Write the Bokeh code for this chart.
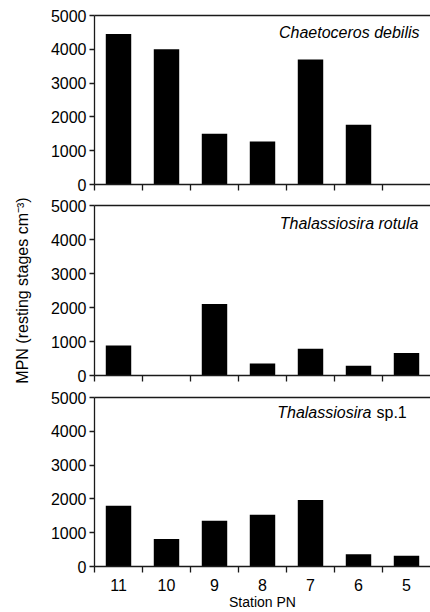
from bokeh.plotting import figure
from bokeh.models import Range1d, FixedTicker, LinearAxis, Label, ColumnDataSource
from bokeh.layouts import column
from bokeh.embed import file_html
from bokeh.resources import INLINE

# ---- data ----
stations = ["11", "10", "9", "8", "7", "6", "5"]
chaetoceros_debilis = [4450, 4000, 1500, 1270, 3700, 1770, 0]
thalassiosira_rotula = [880, 0, 2100, 350, 790, 290, 660]
thalassiosira_sp1 = [1800, 810, 1350, 1530, 1970, 360, 320]
y_ticks = [0, 1000, 2000, 3000, 4000, 5000]
y_max = 5000
y_label = "MPN (resting stages cm\u207b\u00b3)"
x_label = "Station PN"

FONT = "Liberation Sans"
LINE = "#1a1a1a"
x_centers = [i + 0.5 for i in range(len(stations))]
boundaries = list(range(len(stations)))


def make_panel(values, height, top, bottom, last=False, ylabel=None):
    p = figure(width=430, height=height, output_backend="svg", toolbar_location=None,
               x_range=Range1d(0, len(stations)), y_range=Range1d(0, y_max),
               min_border_left=94, min_border_right=0,
               min_border_top=top, min_border_bottom=bottom)
    p.outline_line_color = None
    p.grid.visible = False
    p.background_fill_color = "white"
    p.border_fill_color = "white"

    src = ColumnDataSource(dict(x=x_centers, top=values, station=stations))
    p.vbar(x="x", top="top", width=0.53, source=src,
           fill_color="black", line_color=None)

    # left axis
    ya = p.yaxis[0]
    ya.ticker = FixedTicker(ticks=y_ticks)
    ya.axis_line_color = LINE
    ya.axis_line_width = 1.3
    ya.major_tick_line_color = LINE
    ya.major_tick_line_width = 1.3
    ya.major_tick_out = 5
    ya.major_tick_in = 0
    ya.minor_tick_line_color = None
    ya.major_label_standoff = 3
    ya.major_label_text_font = FONT
    ya.major_label_text_font_size = "16px"
    ya.major_label_text_color = "black"
    if ylabel:
        ya.axis_label = ylabel
        ya.axis_label_text_font = FONT
        ya.axis_label_text_font_size = "16px"
        ya.axis_label_text_font_style = "normal"
        ya.axis_label_text_color = "black"
        ya.axis_label_standoff = 17

    # bottom axis: minor ticks between stations, labels at centres
    xa = p.xaxis[0]
    xa.axis_line_color = LINE
    xa.axis_line_width = 1.3
    xa.major_tick_line_color = None
    xa.minor_tick_line_color = LINE
    xa.minor_tick_line_width = 1.3
    xa.minor_tick_out = 6
    xa.minor_tick_in = 0
    xa.major_tick_in = 0
    if last:
        xa.ticker = FixedTicker(ticks=x_centers, minor_ticks=boundaries)
        xa.major_label_overrides = {c: s for c, s in zip(x_centers, stations)}
        xa.major_tick_out = 4
        xa.major_label_standoff = 6
        xa.major_label_text_font = FONT
        xa.major_label_text_font_size = "16px"
        xa.major_label_text_color = "black"
        xa.axis_label = x_label
        xa.axis_label_text_font = FONT
        xa.axis_label_text_font_size = "14px"
        xa.axis_label_text_font_style = "normal"
        xa.axis_label_text_color = "black"
        xa.axis_label_standoff = 0
    else:
        xa.ticker = FixedTicker(ticks=[], minor_ticks=boundaries)
        xa.major_tick_out = 0
        xa.major_label_standoff = 0

    # top frame line
    top_axis = LinearAxis(ticker=FixedTicker(ticks=[]), axis_line_color=LINE,
                          axis_line_width=1.3, major_tick_out=0, major_tick_in=0,
                          minor_tick_out=0, minor_tick_in=0, major_label_standoff=0)
    p.add_layout(top_axis, "above")
    return p


p1 = make_panel(chaetoceros_debilis, 195, 15, 11)
p1.add_layout(Label(x=len(stations), y=4500, x_offset=-11, text="Chaetoceros debilis",
                    text_align="right", text_baseline="middle", text_font=FONT,
                    text_font_size="16px", text_font_style="italic", text_color="black"))

p2 = make_panel(thalassiosira_rotula, 191, 10, 11, ylabel=y_label)
p2.add_layout(Label(x=len(stations), y=4470, x_offset=-12, text="Thalassiosira rotula",
                    text_align="right", text_baseline="middle", text_font=FONT,
                    text_font_size="16px", text_font_style="italic", text_color="black"))

p3 = make_panel(thalassiosira_sp1, 226, 11, 44, last=True)
p3.add_layout(Label(x=len(stations), y=4560, x_offset=-59, text="Thalassiosira",
                    text_align="right", text_baseline="middle", text_font=FONT,
                    text_font_size="16px", text_font_style="italic", text_color="black"))
p3.add_layout(Label(x=len(stations), y=4560, x_offset=-54, text="sp.1",
                    text_align="left", text_baseline="middle", text_font=FONT,
                    text_font_size="16px", text_font_style="normal", text_color="black"))

layout = column(p1, p2, p3, spacing=0)

with open("out.html", "w") as f:
    f.write(file_html(layout, INLINE))
